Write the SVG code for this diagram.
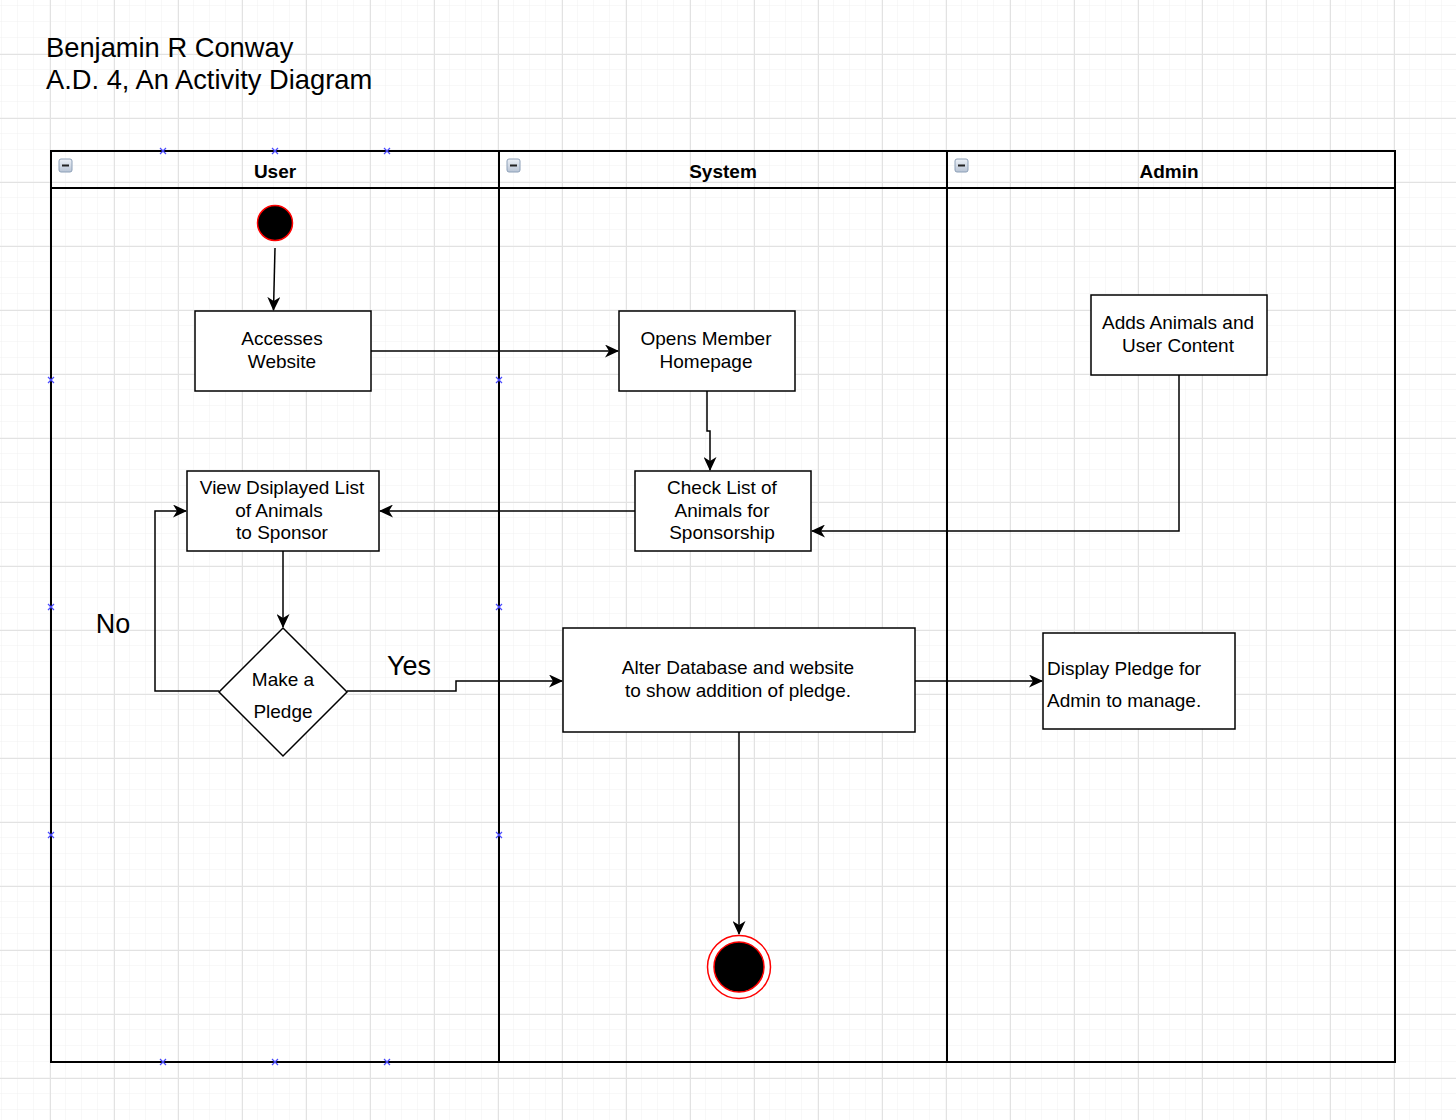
<svg xmlns="http://www.w3.org/2000/svg" width="1456" height="1120" viewBox="0 0 1456 1120">
<defs>
<pattern id="minor" x="2" y="6" width="16" height="16" patternUnits="userSpaceOnUse">
<path d="M16 0V16M0 16H16" fill="none" stroke="#f0f0f0" stroke-width="1"/>
</pattern>
<pattern id="major" x="50" y="54" width="64" height="64" patternUnits="userSpaceOnUse">
<path d="M0.5 0V64M0 0.5H64" fill="none" stroke="#e2e2e2" stroke-width="1"/>
</pattern>
<marker id="arr" viewBox="0 0 14 13" refX="13" refY="6.5" markerWidth="14" markerHeight="13" markerUnits="userSpaceOnUse" orient="auto">
<path d="M0 0L14 6.5L0 13L4 6.5Z" fill="#000"/>
</marker>
<linearGradient id="ig" x1="0" y1="0" x2="0" y2="1">
<stop offset="0" stop-color="#eef2f8"/><stop offset="1" stop-color="#b7c3d4"/>
</linearGradient>
<g id="minus">
<rect x="0" y="0" width="13" height="13" rx="2" fill="url(#ig)" stroke="#8da0b8" stroke-width="1"/>
<rect x="3" y="5.5" width="7" height="2" fill="#222"/>
</g>
<g id="xm">
<path d="M-3 -3L3 3M-3 3L3 -3" stroke="#4a4aff" stroke-width="1.2"/>
</g>
</defs>
<style>
text{font-family:"Liberation Sans",Arial,Helvetica,sans-serif;fill:#000}
.box{fill:#fff;stroke:#000;stroke-width:1.5}
.t{font-size:19px;text-anchor:middle}
.h{font-size:19px;font-weight:bold;text-anchor:middle}
.c{fill:none;stroke:#000;stroke-width:1.5}
.lane{fill:none;stroke:#000;stroke-width:2}
</style>
<rect width="1456" height="1120" fill="#fff"/>
<rect width="1456" height="1120" fill="url(#minor)"/>
<rect width="1456" height="1120" fill="url(#major)"/>

<g id="title">
<text x="46" y="57" font-size="27.3">Benjamin R Conway</text>
<text x="46" y="89" font-size="27.3">A.D. 4, An Activity Diagram</text>
</g>

<g id="pool">
<g id="lane-user">
<rect class="lane" x="51" y="151" width="448" height="911"/>
<line class="lane" x1="51" y1="188" x2="499" y2="188"/>
<use href="#minus" x="59" y="159"/>
<text class="h" x="275" y="178">User</text>
</g>
<g id="lane-system">
<rect class="lane" x="499" y="151" width="448" height="911"/>
<line class="lane" x1="499" y1="188" x2="947" y2="188"/>
<use href="#minus" x="507" y="159"/>
<text class="h" x="723" y="178">System</text>
</g>
<g id="lane-admin">
<rect class="lane" x="947" y="151" width="448" height="911"/>
<line class="lane" x1="947" y1="188" x2="1395" y2="188"/>
<use href="#minus" x="955" y="159"/>
<text class="h" x="1169" y="178">Admin</text>
</g>
</g>

<g id="handles">
<use href="#xm" x="163" y="151"/><use href="#xm" x="275" y="151"/><use href="#xm" x="387" y="151"/>
<use href="#xm" x="51" y="380"/><use href="#xm" x="51" y="607"/><use href="#xm" x="51" y="835"/>
<use href="#xm" x="499" y="380"/><use href="#xm" x="499" y="607"/><use href="#xm" x="499" y="835"/>
<use href="#xm" x="163" y="1062"/><use href="#xm" x="275" y="1062"/><use href="#xm" x="387" y="1062"/>
</g>

<g id="connectors">
<path class="c" d="M275 248L273.5 310" marker-end="url(#arr)"/>
<path class="c" d="M371 351H618" marker-end="url(#arr)"/>
<path class="c" d="M707 391V431H710V470" marker-end="url(#arr)"/>
<path class="c" d="M635 511H380" marker-end="url(#arr)"/>
<path class="c" d="M1179 375V531H812" marker-end="url(#arr)"/>
<path class="c" d="M283 551V627" marker-end="url(#arr)"/>
<path class="c" d="M219 691H155V511H186" marker-end="url(#arr)"/>
<path class="c" d="M347 691H456V681H562" marker-end="url(#arr)"/>
<path class="c" d="M915 681H1042" marker-end="url(#arr)"/>
<path class="c" d="M739 732V934" marker-end="url(#arr)"/>
<text x="113" y="633" font-size="27" text-anchor="middle">No</text>
<text x="409" y="675" font-size="27" text-anchor="middle">Yes</text>
</g>

<g id="start">
<circle cx="275" cy="223" r="17.5" fill="#000" stroke="#ff0000" stroke-width="1.5"/>
</g>
<g id="accesses">
<rect class="box" x="195" y="311" width="176" height="80"/>
<text class="t" x="282" y="345">Accesses</text>
<text class="t" x="282" y="368">Website</text>
</g>
<g id="opens">
<rect class="box" x="619" y="311" width="176" height="80"/>
<text class="t" x="706" y="345">Opens Member</text>
<text class="t" x="706" y="368">Homepage</text>
</g>
<g id="adds">
<rect class="box" x="1091" y="295" width="176" height="80"/>
<text class="t" x="1178" y="329">Adds Animals and</text>
<text class="t" x="1178" y="352">User Content</text>
</g>
<g id="check">
<rect class="box" x="635" y="471" width="176" height="80"/>
<text class="t" x="722" y="494">Check List of</text>
<text class="t" x="722" y="517">Animals for</text>
<text class="t" x="722" y="539">Sponsorship</text>
</g>
<g id="view">
<rect class="box" x="187" y="471" width="192" height="80"/>
<text class="t" x="282" y="494">View Dsiplayed List</text>
<text class="t" x="279" y="517">of Animals</text>
<text class="t" x="282" y="539">to Sponsor</text>
</g>
<g id="pledge">
<path class="box" d="M283 628L347 692L283 756L219 692Z"/>
<text class="t" x="283" y="686">Make a</text>
<text class="t" x="283" y="718">Pledge</text>
</g>
<g id="alter">
<rect class="box" x="563" y="628" width="352" height="104"/>
<text class="t" x="738" y="674">Alter Database and website</text>
<text class="t" x="738" y="697">to show addition of pledge.</text>
</g>
<g id="display">
<rect class="box" x="1043" y="633" width="192" height="96"/>
<text x="1047" y="675" font-size="19">Display Pledge for</text>
<text x="1047" y="707" font-size="19">Admin to manage.</text>
</g>
<g id="end">
<circle cx="739" cy="967" r="31.5" fill="#fff" stroke="#ff0000" stroke-width="1.5"/>
<circle cx="739" cy="967" r="25" fill="#000" stroke="#ff0000" stroke-width="1.5"/>
</g>
</svg>
